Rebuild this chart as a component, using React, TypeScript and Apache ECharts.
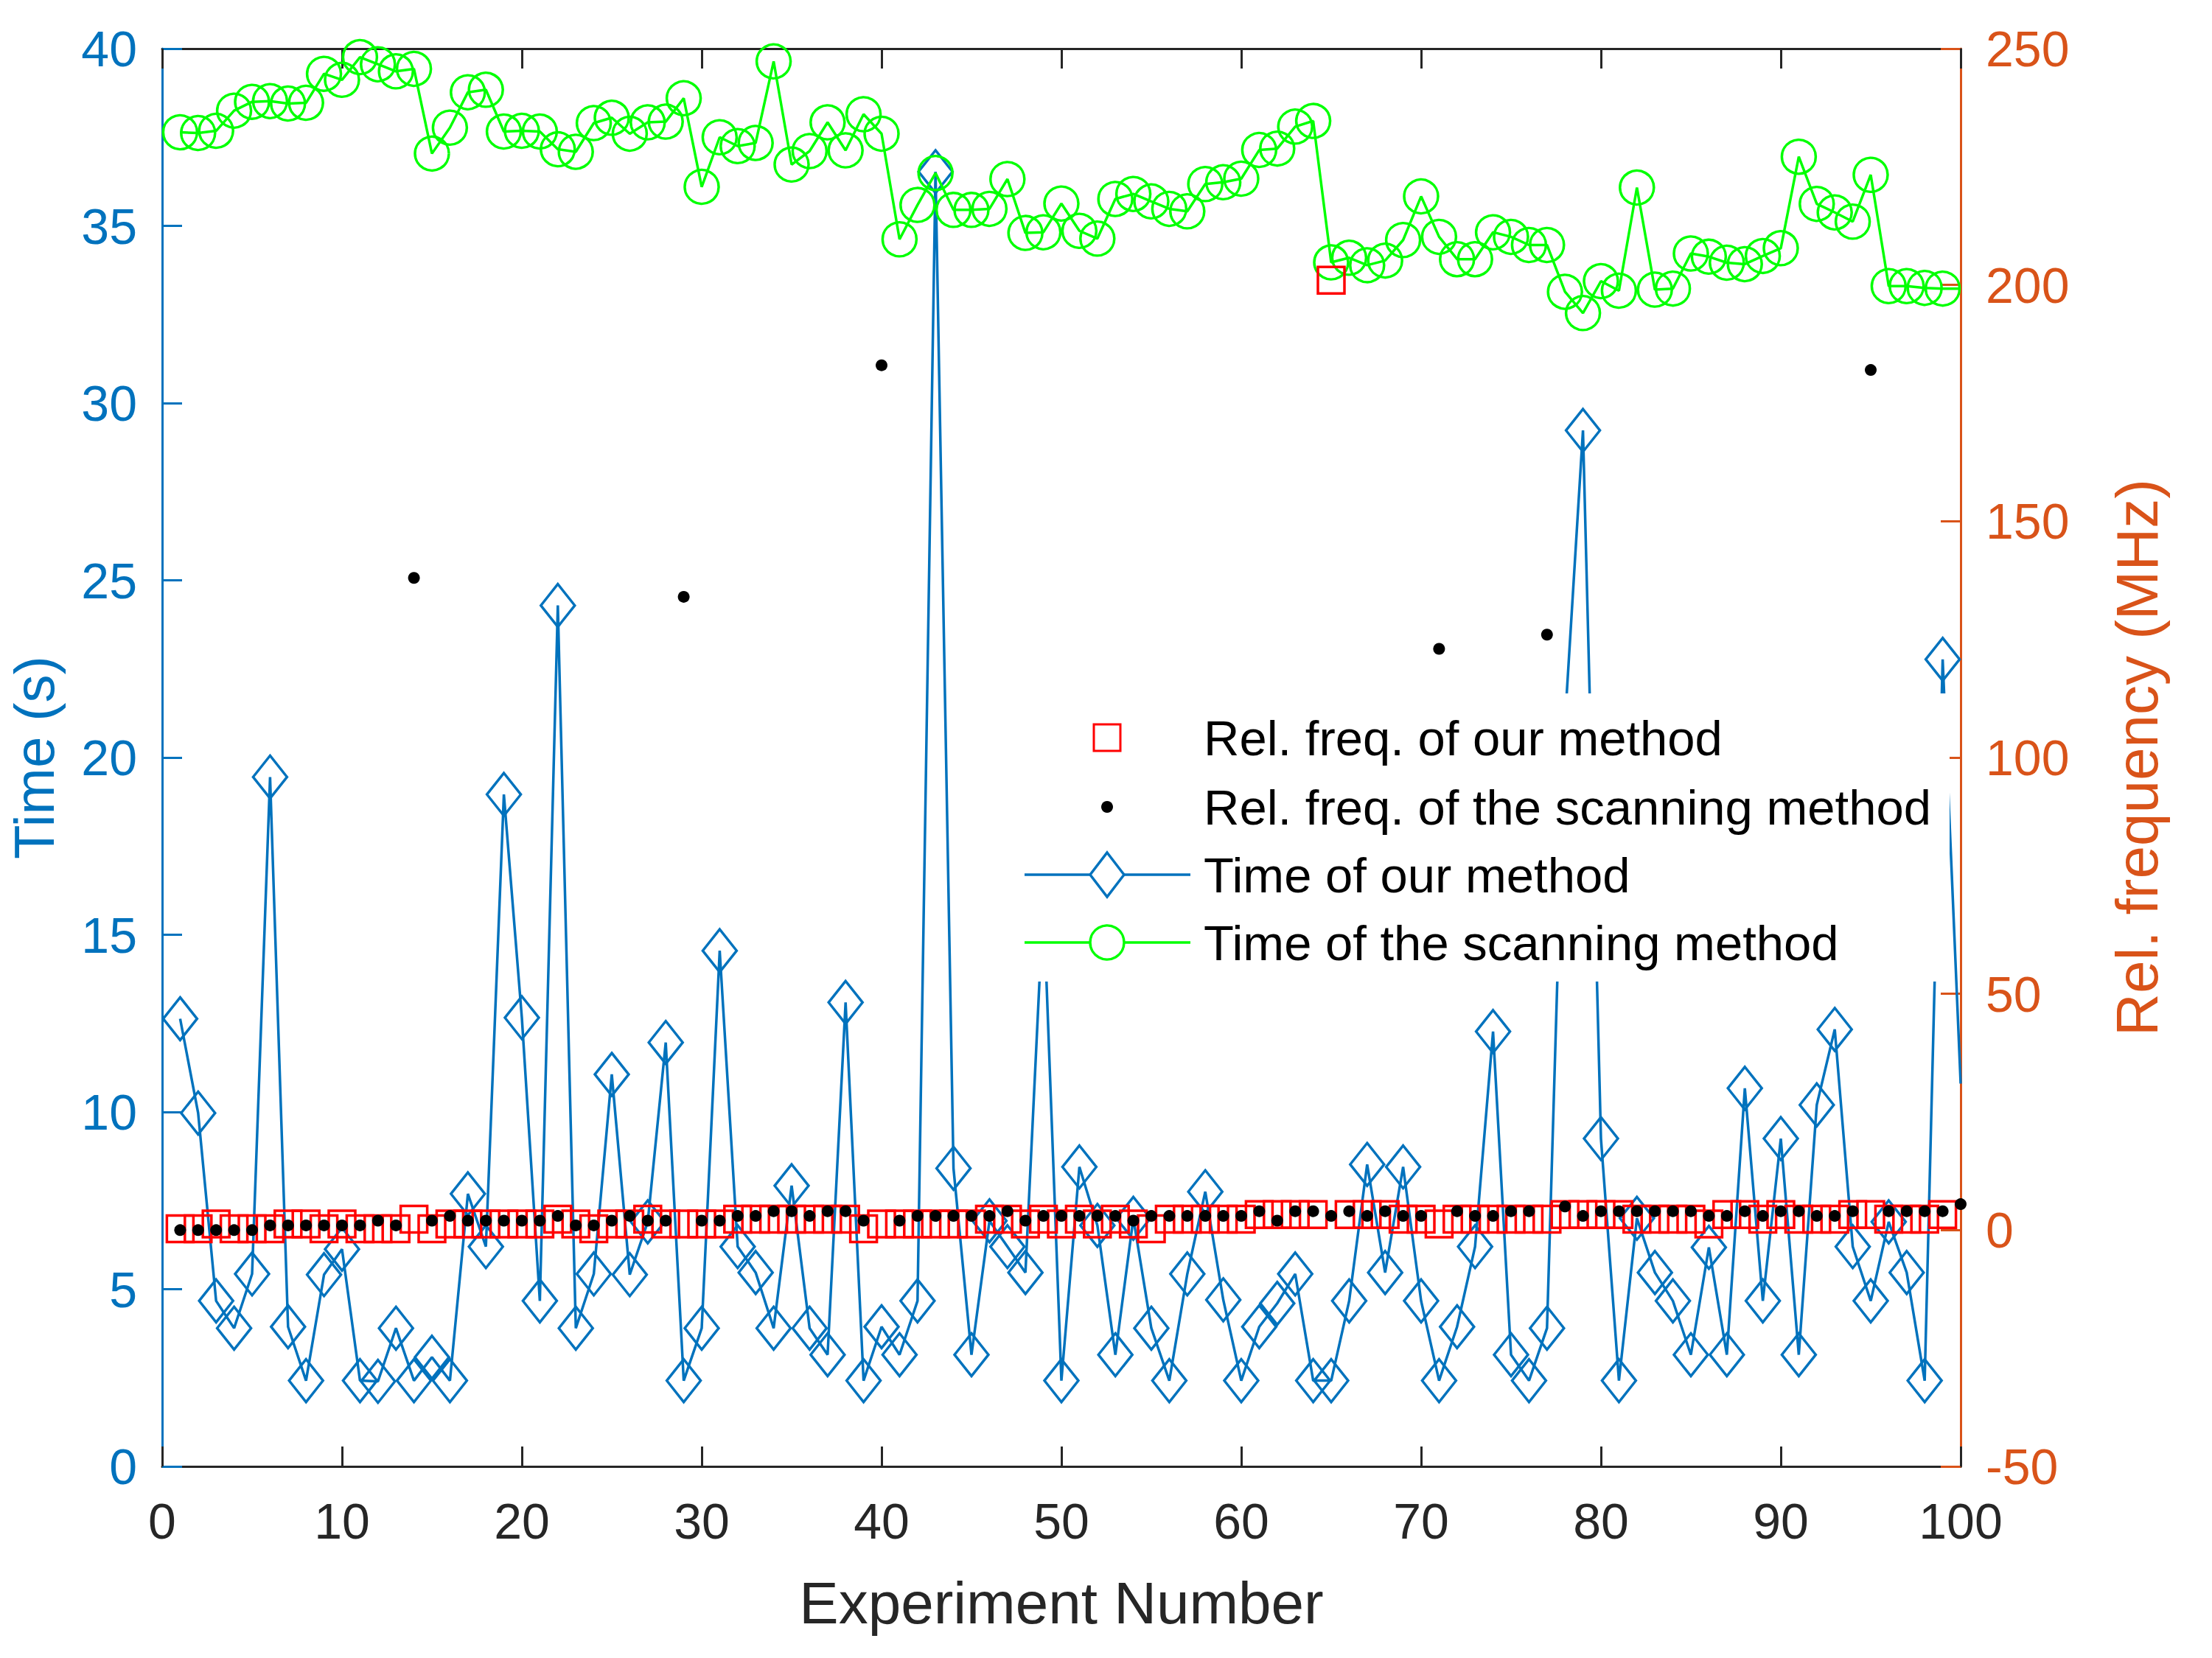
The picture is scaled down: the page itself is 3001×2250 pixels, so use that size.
import React, { useEffect, useRef } from "react";
import * as echarts from "echarts";

const experiments = [
  1, 2, 3, 4, 5, 6, 7, 8, 9, 10, 11, 12, 13, 14, 15, 16, 17, 18, 19, 20,
  21, 22, 23, 24, 25, 26, 27, 28, 29, 30, 31, 32, 33, 34, 35, 36, 37, 38, 39, 40,
  41, 42, 43, 44, 45, 46, 47, 48, 49, 50, 51, 52, 53, 54, 55, 56, 57, 58, 59, 60,
  61, 62, 63, 64, 65, 66, 67, 68, 69, 70, 71, 72, 73, 74, 75, 76, 77, 78, 79, 80,
  81, 82, 83, 84, 85, 86, 87, 88, 89, 90, 91, 92, 93, 94, 95, 96, 97, 98, 99, 100,
];

// Time of our method (s), left axis
const timeOurs = [
  12.63, 9.97, 4.67, 3.9, 5.43, 19.45, 3.94, 2.42, 5.41, 6.13,
  2.42, 2.4, 3.9, 2.42, 3.08, 2.42, 7.69, 6.2, 18.96, 12.66,
  4.67, 24.29, 3.9, 5.43, 11.06, 5.41, 6.9, 11.96, 2.42, 3.9,
  14.55, 6.2, 5.47, 3.9, 7.92, 3.9, 3.15, 13.09, 2.42, 3.94,
  3.15, 4.67, 36.53, 8.41, 3.15, 6.93, 6.2, 5.47, 16.0, 2.42,
  8.45, 6.8, 3.15, 7.0, 3.9, 2.42, 5.43, 7.75, 4.7, 2.42,
  3.94, 4.6, 5.43, 2.42, 2.42, 4.67, 8.52, 5.47, 8.45, 4.67,
  2.42, 3.94, 6.2, 12.27, 3.15, 2.42, 3.9, 21.0, 29.23, 9.25,
  2.42, 7.0, 5.47, 4.67, 3.15, 6.18, 3.15, 10.67, 4.67, 9.25,
  3.15, 10.2, 12.33, 6.2, 4.67, 6.9, 5.47, 2.42, 22.77, 10.8,
];

// Time of the scanning method (s), left axis
const timeScan = [
  37.64, 37.62, 37.68, 38.25, 38.5, 38.52, 38.45, 38.47, 39.29, 39.12,
  39.76, 39.56, 39.36, 39.43, 37.04, 37.77, 38.77, 38.84, 37.66, 37.68,
  37.66, 37.16, 37.09, 37.9, 38.05, 37.6, 37.92, 37.94, 38.6, 36.1,
  37.5, 37.25, 37.34, 39.64, 36.73, 37.11, 37.92, 37.13, 38.15, 37.6,
  34.62, 35.59, 36.49, 35.45, 35.45, 35.48, 36.32, 34.8, 34.82, 35.63,
  34.86, 34.64, 35.76, 35.9, 35.69, 35.48, 35.41, 36.18, 36.23, 36.33,
  37.14, 37.18, 37.8, 37.96, 33.97, 34.1, 33.89, 34.02, 34.6, 35.83,
  34.69, 34.06, 34.06, 34.82, 34.69, 34.46, 34.46, 33.14, 32.54, 33.44,
  33.17, 36.08, 33.2, 33.23, 34.22, 34.13, 33.96, 33.92, 34.15, 34.37,
  36.95, 35.62, 35.38, 35.12, 36.44, 33.3, 33.3, 33.25, 33.23, 33.23,
];

// Relative frequency of our method (MHz), right axis, experiments 1..99
const freqOurs = [
  0.3, 0.3, 1.3, 0.3, 0.3, 0.3, 1.3, 1.3, 0.3, 1.3,
  0.3, 0.3, 0.3, 2.3, 0.3, 1.3, 1.3, 1.3, 1.3, 1.3,
  1.3, 2.3, 1.3, 0.3, 1.3, 1.3, 2.3, 1.3, 1.3, 1.3,
  1.3, 2.3, 2.3, 2.3, 2.3, 2.3, 2.3, 2.3, 0.3, 1.3,
  1.3, 1.3, 1.3, 1.3, 1.3, 2.3, 2.3, 1.3, 2.3, 1.3,
  2.3, 1.3, 2.3, 1.3, 0.3, 2.3, 2.3, 2.3, 2.3, 2.3,
  3.3, 3.3, 3.3, 3.3, 201.0, 3.3, 3.3, 3.3, 2.3, 2.3,
  1.3, 2.3, 2.3, 2.3, 2.3, 2.3, 2.3, 3.3, 3.3, 3.3,
  3.3, 2.3, 2.3, 2.3, 2.3, 1.3, 3.3, 3.3, 2.3, 3.3,
  2.3, 2.3, 2.3, 3.3, 3.3, 2.3, 2.3, 2.3, 3.3,
];

// Relative frequency of the scanning method (MHz), right axis
const freqScan = [
  0, 0, 0, 0, 0, 1, 1, 1, 1, 1,
  1, 2, 1, 138, 2, 3, 2, 2, 2, 2,
  2, 3, 1, 1, 2, 3, 2, 2, 134, 2,
  2, 3, 3, 4, 4, 3, 4, 4, 2, 183,
  2, 3, 3, 3, 3, 3, 4, 2, 3, 3,
  3, 3, 3, 2, 3, 3, 3, 3, 3, 3,
  4, 2, 4, 4, 3, 4, 3, 4, 3, 3,
  123, 4, 3, 3, 4, 4, 126, 5, 3, 4,
  4, 4, 4, 4, 4, 3, 3, 4, 3, 4,
  4, 3, 3, 4, 182, 4, 4, 4, 4, 5.5,
];

const xTicks = [0, 10, 20, 30, 40, 50, 60, 70, 80, 90, 100];
const leftTicks = [0, 5, 10, 15, 20, 25, 30, 35, 40];
const rightTicks = [-50, 0, 50, 100, 150, 200, 250];

const legendNames = [
  "Rel. freq. of our method",
  "Rel. freq. of the scanning method",
  "Time of our method",
  "Time of the scanning method",
];

const BLUE = "#0072BD";
const ORANGE = "#D95319";
const GREEN = "#00FF00";
const RED = "#FF0000";
const DARK = "#262626";
const FONT = "Liberation Sans, Arial, sans-serif";

export default function App() {
  const ref = useRef<HTMLDivElement>(null);

  useEffect(() => {
    if (!ref.current) return;
    const chart = echarts.init(ref.current, undefined, { renderer: "svg" });

    const blueData = experiments.map((x, i) =>
      i === experiments.length - 1
        ? { value: [x, timeOurs[i]], symbol: "none" }
        : [x, timeOurs[i]]
    );
    const greenData = experiments.map((x, i) =>
      i === experiments.length - 1
        ? { value: [x, timeScan[i]], symbol: "none" }
        : [x, timeScan[i]]
    );
    const redData = freqOurs.map((v, i) => [experiments[i], v]);
    const blackData = freqScan.map((v, i) => [experiments[i], v]);

    const tickLen = 27;
    const LX = 1380, LY = 941, LW = 1265, LH = 391;
    const iconCx = 1502;
    const textX = 1633;
    const rowY = [1001, 1095, 1187, 1279];
    const LINE_W = 3.5;

    const legendElements: any[] = [
      {
        type: "rect",
        z: 50,
        shape: { x: LX, y: LY, width: LW, height: LH },
        style: { fill: "#ffffff", stroke: null },
      },
      {
        type: "rect",
        z: 51,
        shape: { x: iconCx - 18, y: rowY[0] - 18, width: 36, height: 36 },
        style: { fill: "none", stroke: RED, lineWidth: 3 },
      },
      {
        type: "circle",
        z: 51,
        shape: { cx: iconCx, cy: rowY[1], r: 8 },
        style: { fill: "#000000" },
      },
      {
        type: "line",
        z: 51,
        shape: { x1: 1390, y1: rowY[2], x2: 1615, y2: rowY[2] },
        style: { stroke: BLUE, lineWidth: LINE_W },
      },
      {
        type: "polygon",
        z: 52,
        shape: {
          points: [
            [iconCx, rowY[2] - 30],
            [iconCx + 23, rowY[2]],
            [iconCx, rowY[2] + 30],
            [iconCx - 23, rowY[2]],
          ],
        },
        style: { fill: "#ffffff", stroke: BLUE, lineWidth: LINE_W },
      },
      {
        type: "line",
        z: 51,
        shape: { x1: 1390, y1: rowY[3], x2: 1615, y2: rowY[3] },
        style: { stroke: GREEN, lineWidth: LINE_W },
      },
      {
        type: "circle",
        z: 52,
        shape: { cx: iconCx, cy: rowY[3], r: 23 },
        style: { fill: "#ffffff", stroke: GREEN, lineWidth: LINE_W },
      },
    ];
    legendNames.forEach((name, i) => {
      legendElements.push({
        type: "text",
        z: 53,
        x: textX,
        y: rowY[i],
        style: {
          text: name,
          fill: "#000000",
          fontSize: 67,
          fontFamily: FONT,
          textAlign: "left",
          textVerticalAlign: "middle",
          verticalAlign: "middle",
        },
      });
    });

    const option: any = {
      animation: false,
      backgroundColor: "#ffffff",
      grid: {
        left: 220,
        right: 341,
        top: 66,
        bottom: 260,
        containLabel: false,
        outerBoundsMode: "none",
      },
      xAxis: [
        {
          type: "value",
          min: xTicks[0],
          max: xTicks[xTicks.length - 1],
          interval: 10,
          position: "bottom",
          name: "Experiment Number",
          nameLocation: "middle",
          nameGap: 145,
          nameTextStyle: { color: DARK, fontSize: 80, fontFamily: FONT },
          axisLine: { show: true, lineStyle: { color: DARK, width: 3 } },
          axisTick: { show: true, inside: true, length: tickLen, lineStyle: { color: DARK, width: 3 } },
          axisLabel: { color: DARK, fontSize: 68, fontFamily: FONT, margin: 40 },
          splitLine: { show: false },
        },
        {
          type: "value",
          min: xTicks[0],
          max: xTicks[xTicks.length - 1],
          interval: 10,
          position: "top",
          axisLine: { show: true, onZero: false, lineStyle: { color: DARK, width: 3 } },
          axisTick: { show: true, inside: true, length: tickLen, lineStyle: { color: DARK, width: 3 } },
          axisLabel: { show: false },
          splitLine: { show: false },
        },
      ],
      yAxis: [
        {
          type: "value",
          min: leftTicks[0],
          max: leftTicks[leftTicks.length - 1],
          interval: 5,
          position: "left",
          name: "Time (s)",
          nameLocation: "middle",
          nameGap: 136,
          nameTextStyle: { color: BLUE, fontSize: 76, fontFamily: FONT, lineHeight: 76 },
          axisLine: { show: true, onZero: false, lineStyle: { color: BLUE, width: 3 } },
          axisTick: { show: true, inside: true, length: tickLen, lineStyle: { color: BLUE, width: 3 } },
          axisLabel: { color: BLUE, fontSize: 68, fontFamily: FONT, margin: 34 },
          splitLine: { show: false },
        },
        {
          type: "value",
          min: rightTicks[0],
          max: rightTicks[rightTicks.length - 1],
          interval: 50,
          position: "right",
          name: "Rel. frequency (MHz)",
          nameLocation: "middle",
          nameGap: 199,
          nameTextStyle: { color: ORANGE, fontSize: 80, fontFamily: FONT },
          axisLine: { show: true, onZero: false, lineStyle: { color: ORANGE, width: 3 } },
          axisTick: { show: true, inside: true, length: tickLen, lineStyle: { color: ORANGE, width: 3 } },
          axisLabel: { color: ORANGE, fontSize: 68, fontFamily: FONT, margin: 34 },
          splitLine: { show: false },
        },
      ],
      series: [
        {
          name: legendNames[2],
          type: "line",
          xAxisIndex: 0,
          yAxisIndex: 0,
          data: blueData,
          symbol: "diamond",
          symbolSize: [46, 58],
          showAllSymbol: true,
          lineStyle: { color: BLUE, width: LINE_W },
          itemStyle: { color: "rgba(0,0,0,0)", borderColor: BLUE, borderWidth: LINE_W },
          z: 2,
        },
        {
          name: legendNames[3],
          type: "line",
          xAxisIndex: 0,
          yAxisIndex: 0,
          data: greenData,
          symbol: "circle",
          symbolSize: 46,
          showAllSymbol: true,
          lineStyle: { color: GREEN, width: LINE_W },
          itemStyle: { color: "rgba(0,0,0,0)", borderColor: GREEN, borderWidth: LINE_W },
          z: 3,
        },
        {
          name: legendNames[0],
          type: "scatter",
          xAxisIndex: 0,
          yAxisIndex: 1,
          data: redData,
          symbol: "rect",
          symbolSize: 36,
          itemStyle: { color: "rgba(0,0,0,0)", borderColor: RED, borderWidth: 3.5, opacity: 1 },
          z: 4,
        },
        {
          name: legendNames[1],
          type: "scatter",
          xAxisIndex: 0,
          yAxisIndex: 1,
          data: blackData,
          symbol: "circle",
          symbolSize: 16,
          itemStyle: { color: "#000000", opacity: 1 },
          z: 5,
        },
      ],
      graphic: { elements: legendElements },
    };

    chart.setOption(option);
    return () => chart.dispose();
  }, []);

  return (
    <div
      ref={ref}
      style={{ position: "fixed", left: 0, top: 0, width: 3001, height: 2250, background: "#fff" }}
    />
  );
}
